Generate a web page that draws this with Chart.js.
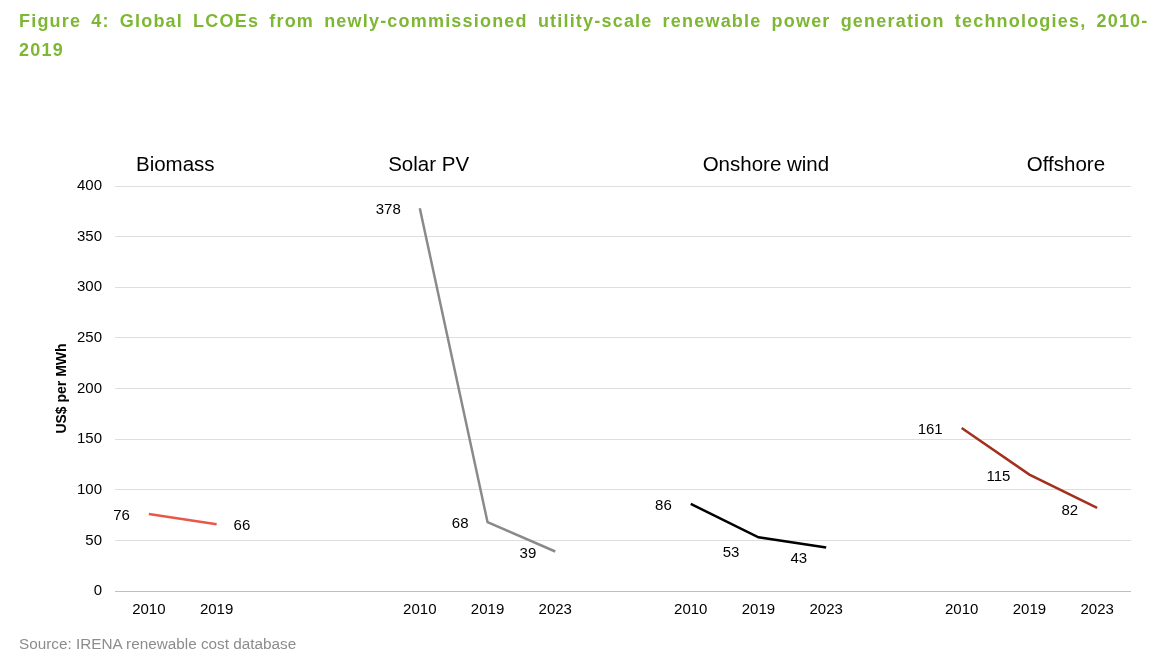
<!DOCTYPE html>
<html lang="en">

<head>
  <meta charset="UTF-8">
  <meta name="viewport" content="width=device-width, initial-scale=1.0">
  <title>Global LCOEs</title>
  <style>
    html, body { margin: 0; padding: 0; background: #fff; overflow: hidden; }
    body { width: 1149px; height: 669px; position: relative; font-family: 'Liberation Sans', Arial, sans-serif; }
    #fig-title {
      position: absolute; left: 19px; top: 6.5px; width: 1300px;
      font-weight: bold; font-size: 18px; line-height: 29px;
      letter-spacing: 1.2px; word-spacing: 3.9px;
      white-space: nowrap; color: #7DB734; z-index: 2;
    }
    #source {
      position: absolute; left: 19px; top: 635px;
      font-size: 15.3px; color: #8C8C8C; z-index: 2;
    }
    .grafica { position: absolute; left: 0; top: 0; width: 1149px; height: 669px; }
  </style>
</head>

<body>

  <div id="fig-title">Figure 4: Global LCOEs from newly-commissioned utility-scale renewable power generation technologies, 2010-<br>2019</div>
  <div class="grafica">
    <canvas id="myChart"></canvas>
  </div>
  <div id="source">Source: IRENA renewable cost database</div>

  <script src="https://cdn.jsdelivr.net/npm/chart.js"></script>

  <script>

    // ejes
    const categories = ['2010', '2019', '', '', '2010', '2019', '2023', '', '2010', '2019', '2023', '', '2010', '2019', '2023']
    const yTicks = [0, 50, 100, 150, 200, 250, 300, 350, 400]

    // valores por tecnologia (USD/MWh)
    const technologies = ['Biomass', 'Solar PV', 'Onshore wind', 'Offshore']
    const biomassValues = [76, 66]
    const solarValues = [378, 68, 39]
    const onshoreValues = [86, 53, 43]
    const offshoreValues = [161, 115, 82]
    // indice de la primera categoria de cada grupo
    const groupStart = [0, 4, 8, 12]

    // estilos (fuera de los datos)
    const colors = ['#E8584A', '#8A8A8A', '#000000', '#A3301D']
    const headerPos = [0.39, 4.13, 9.11, 13.54] // posicion del titulo de grupo, en indices de categoria
    // lado y desplazamiento vertical de cada etiqueta
    const labelPlacement = [
      [['left', 0], ['right', 0]],
      [['left', 0], ['left', 0], ['left', 0]],
      [['left', 0], ['left', 14], ['left', 9]],
      [['left', 0], ['left', 0], ['left', 1]]
    ]

    const allValues = [biomassValues, solarValues, onshoreValues, offshoreValues]

    // rellenar con null fuera del grupo
    const padSeries = (values, start) => categories.map((c, i) => {
      const k = i - start
      return k >= 0 && k < values.length ? values[k] : null
    })

    const datasets = technologies.map((name, t) => ({
      label: name,
      data: padSeries(allValues[t], groupStart[t]),
      borderColor: colors[t],
      backgroundColor: colors[t],
      borderWidth: 2.5,
      pointRadius: 0,
      tension: 0,
      spanGaps: false
    }))

    const labelsPlugin = {
      id: 'labelsPlugin',
      afterDatasetsDraw(chart) {
        const ctx = chart.ctx
        const xScale = chart.scales.x
        ctx.save()
        ctx.fillStyle = '#000'
        ctx.textBaseline = 'middle'
        ctx.font = '15px "Liberation Sans", Arial, sans-serif'
        chart.data.datasets.forEach((ds, t) => {
          const meta = chart.getDatasetMeta(t)
          allValues[t].forEach((v, k) => {
            const el = meta.data[groupStart[t] + k]
            const [side, dy] = labelPlacement[t][k]
            ctx.textAlign = side === 'left' ? 'right' : 'left'
            const x = side === 'left' ? el.x - 19 : el.x + 17
            ctx.fillText(String(v), x, el.y + dy + 2)
          })
        })
        // titulos de grupo
        ctx.font = '20.5px "Liberation Sans", Arial, sans-serif'
        ctx.textAlign = 'center'
        ctx.textBaseline = 'alphabetic'
        technologies.forEach((name, t) => {
          ctx.fillText(name, xScale.getPixelForValue(headerPos[t]), 171)
        })
        ctx.restore()
      }
    }

    const config = {
      type: 'line',
      data: { labels: categories, datasets },
      options: {
        responsive: true,
        maintainAspectRatio: false,
        animation: false,
        layout: { padding: { left: 50, top: 186, right: 18, bottom: 38 } },
        plugins: {
          legend: { display: false },
          title: { display: false },
          tooltip: { enabled: false }
        },
        scales: {
          x: {
            offset: true,
            grid: { display: false, drawTicks: false },
            border: { display: false },
            ticks: {
              color: '#000',
              font: { family: 'Liberation Sans', size: 15 },
              padding: 10,
              maxRotation: 0,
              autoSkip: false
            },
            afterFit(scale) { scale.height = 40 }
          },
          y: {
            min: 0,
            max: 400,
            afterBuildTicks(scale) { scale.ticks = yTicks.map(v => ({ value: v })) },
            grid: {
              drawTicks: false,
              color: ctx => ctx.tick && ctx.tick.value === 0 ? '#BFBFBF' : '#DEDEDE',
              lineWidth: 1
            },
            border: { display: false },
            ticks: {
              color: '#000',
              font: { family: 'Liberation Sans', size: 15 },
              padding: 13
            },
            title: {
              display: true,
              text: 'US$ per MWh',
              color: '#000',
              font: { family: 'Liberation Sans', size: 14, weight: 'bold' },
              padding: { top: 4, bottom: 0 }
            },
            afterFit(scale) { scale.width = 65 }
          }
        }
      },
      plugins: [labelsPlugin]
    }

    new Chart(document.getElementById('myChart'), config)
  </script>
</body>

</html>
